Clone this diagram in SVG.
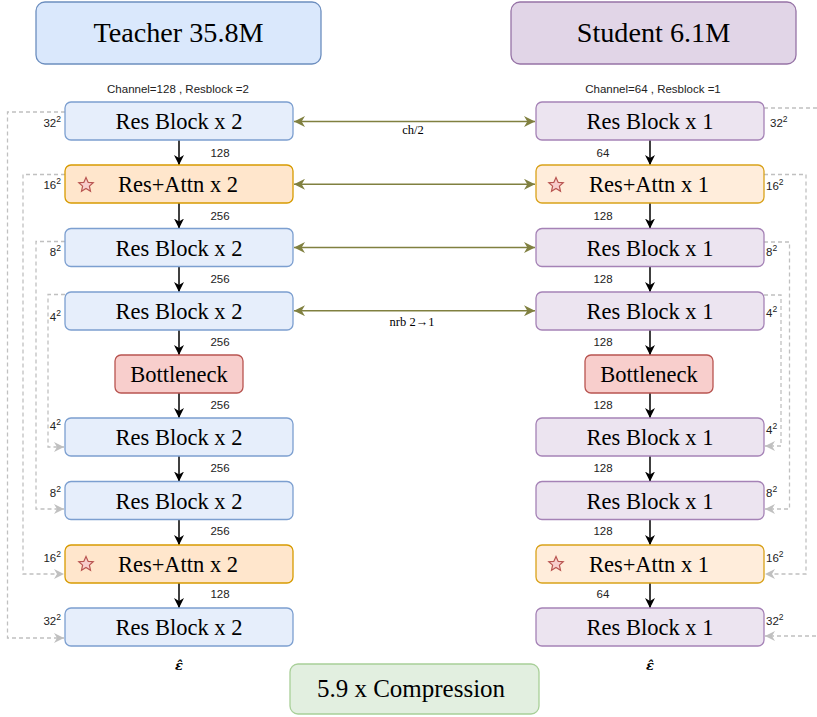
<svg xmlns="http://www.w3.org/2000/svg" width="817" height="717" viewBox="0 0 817 717">
<style>
.t{font-family:"Liberation Serif","Times New Roman",serif;fill:#000}
.s{font-family:"Liberation Sans",Arial,sans-serif;fill:#222;font-size:11.5px}
.sup{font-size:8.5px}
.blk{font-size:22.5px;text-anchor:middle}
.eps{font-family:"DejaVu Serif",serif;font-size:13px;font-weight:bold;font-style:italic;text-anchor:middle;fill:#000}
.tb{fill:#e6eefb;stroke:#7c9fd0;stroke-width:1.3}
.sb{fill:#ece4f0;stroke:#a582b6;stroke-width:1.3}
.ab{fill:#ffe6cc;stroke:#d79b00;stroke-width:1.3}
.ab2{fill:#ffeddb;stroke:#d9a21a;stroke-width:1.3}
.bn{fill:#f8cecc;stroke:#b85450;stroke-width:1.3}
.blk2{stroke:#000;stroke-width:1.5;fill:none}
.ol{stroke:#808040;stroke-width:1.5;fill:none}
.dg{stroke:#c0c0c0;stroke-width:1.3;fill:none;stroke-dasharray:4 3}
.star{fill:#f8cecc;stroke:#b85450;stroke-width:1.2}
</style>
<defs>
<marker id="ab" viewBox="0 0 10 10" refX="10" refY="5" markerWidth="10" markerHeight="10" markerUnits="userSpaceOnUse" orient="auto"><path d="M0,0 L10,5 L0,10 L3,5 z" fill="#000"/></marker>
<marker id="ao" viewBox="0 0 10 10" refX="10" refY="5" markerWidth="11" markerHeight="11" markerUnits="userSpaceOnUse" orient="auto-start-reverse"><path d="M0,0 L10,5 L0,10 L3,5 z" fill="#808040"/></marker>
<marker id="ag" viewBox="0 0 10 10" refX="10" refY="5" markerWidth="10" markerHeight="10" markerUnits="userSpaceOnUse" orient="auto"><path d="M0,0 L10,5 L0,10 L3,5 z" fill="#c0c0c0"/></marker>
<path id="st" d="M0,-7.5 L2.2,-2.6 L7.2,-2.3 L3.4,1.1 L4.5,6.2 L0,3.5 L-4.5,6.2 L-3.4,1.1 L-7.2,-2.3 L-2.2,-2.6 Z"/>
</defs>

<g id="title-teacher"><rect x="36" y="2" width="285" height="62" rx="9" fill="#dae8fc" stroke="#6c8ebf" stroke-width="1.3"/><text class="t" x="178.5" y="42" font-size="28.2" text-anchor="middle">Teacher 35.8M</text></g>
<g id="title-student"><rect x="511" y="2" width="285" height="62" rx="9" fill="#e1d5e7" stroke="#9673a6" stroke-width="1.3"/><text class="t" x="653.5" y="42" font-size="28.2" text-anchor="middle">Student 6.1M</text></g>

<text class="s" x="178" y="93" text-anchor="middle">Channel=128 , Resblock =2</text>
<text class="s" x="653" y="93" text-anchor="middle">Channel=64 , Resblock =1</text>

<g id="connectors">
<line class="blk2" x1="179" y1="140" x2="179" y2="165" marker-end="url(#ab)"/>
<line class="blk2" x1="179" y1="203" x2="179" y2="228.5" marker-end="url(#ab)"/>
<line class="blk2" x1="179" y1="266.5" x2="179" y2="292" marker-end="url(#ab)"/>
<line class="blk2" x1="179" y1="330" x2="179" y2="355" marker-end="url(#ab)"/>
<line class="blk2" x1="179" y1="393" x2="179" y2="418" marker-end="url(#ab)"/>
<line class="blk2" x1="179" y1="456" x2="179" y2="481.5" marker-end="url(#ab)"/>
<line class="blk2" x1="179" y1="519.5" x2="179" y2="545" marker-end="url(#ab)"/>
<line class="blk2" x1="179" y1="583" x2="179" y2="608" marker-end="url(#ab)"/>
<line class="blk2" x1="650" y1="140" x2="650" y2="165" marker-end="url(#ab)"/>
<line class="blk2" x1="650" y1="203" x2="650" y2="228.5" marker-end="url(#ab)"/>
<line class="blk2" x1="650" y1="266.5" x2="650" y2="292" marker-end="url(#ab)"/>
<line class="blk2" x1="650" y1="330" x2="650" y2="355" marker-end="url(#ab)"/>
<line class="blk2" x1="650" y1="393" x2="650" y2="418" marker-end="url(#ab)"/>
<line class="blk2" x1="650" y1="456" x2="650" y2="481.5" marker-end="url(#ab)"/>
<line class="blk2" x1="650" y1="519.5" x2="650" y2="545" marker-end="url(#ab)"/>
<line class="blk2" x1="650" y1="583" x2="650" y2="608" marker-end="url(#ab)"/>
<line class="ol" x1="294" y1="121.5" x2="535" y2="121.5" marker-start="url(#ao)" marker-end="url(#ao)"/>
<line class="ol" x1="294" y1="184.3" x2="535" y2="184.3" marker-start="url(#ao)" marker-end="url(#ao)"/>
<line class="ol" x1="294" y1="247.5" x2="535" y2="247.5" marker-start="url(#ao)" marker-end="url(#ao)"/>
<line class="ol" x1="294" y1="310.7" x2="535" y2="310.7" marker-start="url(#ao)" marker-end="url(#ao)"/>
<path class="dg" d="M65,112 H7.5 V638 H64" marker-end="url(#ag)"/>
<path class="dg" d="M65,174.5 H23 V574 H64" marker-end="url(#ag)"/>
<path class="dg" d="M65,241.5 H36 V509 H64" marker-end="url(#ag)"/>
<path class="dg" d="M65,294.5 H48 V447 H64" marker-end="url(#ag)"/>
<path class="dg" d="M764,108 H820 V636 H765" marker-end="url(#ag)"/>
<path class="dg" d="M764,174.5 H806 V574 H765" marker-end="url(#ag)"/>
<path class="dg" d="M764,242 H789.5 V509 H765" marker-end="url(#ag)"/>
<path class="dg" d="M764,295 H781 V446 H765" marker-end="url(#ag)"/>
</g>

<g id="edge-labels">
<text class="t" x="413" y="134" font-size="12.5" text-anchor="middle">ch/2</text>
<text class="t" x="412" y="326" font-size="12.5" text-anchor="middle">nrb 2→1</text>
<g class="s" text-anchor="middle">
<text x="220" y="157">128</text><text x="220" y="220">256</text><text x="220" y="283">256</text><text x="220" y="346">256</text>
<text x="220" y="409">256</text><text x="220" y="472">256</text><text x="220" y="535">256</text><text x="220" y="598">128</text>
<text x="603" y="157">64</text><text x="603" y="220">128</text><text x="603" y="283">128</text><text x="603" y="346">128</text>
<text x="603" y="409">128</text><text x="603" y="472">128</text><text x="603" y="535">128</text><text x="603" y="598">64</text>
</g>
<g class="s" text-anchor="end">
<text x="61" y="127">32<tspan class="sup" dy="-5">2</tspan></text>
<text x="61" y="189">16<tspan class="sup" dy="-5">2</tspan></text>
<text x="61" y="256">8<tspan class="sup" dy="-5">2</tspan></text>
<text x="61" y="321">4<tspan class="sup" dy="-5">2</tspan></text>
<text x="61" y="430">4<tspan class="sup" dy="-5">2</tspan></text>
<text x="61" y="497">8<tspan class="sup" dy="-5">2</tspan></text>
<text x="61" y="562">16<tspan class="sup" dy="-5">2</tspan></text>
<text x="61" y="625">32<tspan class="sup" dy="-5">2</tspan></text>
</g>
<g class="s">
<text x="770" y="127">32<tspan class="sup" dy="-5">2</tspan></text>
<text x="766" y="190">16<tspan class="sup" dy="-5">2</tspan></text>
<text x="766" y="256">8<tspan class="sup" dy="-5">2</tspan></text>
<text x="766" y="317">4<tspan class="sup" dy="-5">2</tspan></text>
<text x="766" y="434">4<tspan class="sup" dy="-5">2</tspan></text>
<text x="766" y="497">8<tspan class="sup" dy="-5">2</tspan></text>
<text x="766" y="562">16<tspan class="sup" dy="-5">2</tspan></text>
<text x="766" y="625">32<tspan class="sup" dy="-5">2</tspan></text>
</g>
</g>

<g id="t-enc1"><rect class="tb" x="65" y="102" width="228" height="38" rx="6"/><text class="t blk" x="179" y="129">Res Block x 2</text></g>
<g id="t-enc2"><rect class="ab" x="65" y="165" width="228" height="38" rx="6"/><use href="#st" class="star" x="86" y="185"/><text class="t blk" x="178" y="192">Res+Attn x 2</text></g>
<g id="t-enc3"><rect class="tb" x="65" y="228.5" width="228" height="38" rx="6"/><text class="t blk" x="179" y="255.5">Res Block x 2</text></g>
<g id="t-enc4"><rect class="tb" x="65" y="292" width="228" height="38" rx="6"/><text class="t blk" x="179" y="319">Res Block x 2</text></g>
<g id="t-bottleneck"><rect class="bn" x="115" y="355" width="128" height="38" rx="6"/><text class="t blk" x="179" y="382">Bottleneck</text></g>
<g id="t-dec1"><rect class="tb" x="65" y="418" width="228" height="38" rx="6"/><text class="t blk" x="179" y="445">Res Block x 2</text></g>
<g id="t-dec2"><rect class="tb" x="65" y="481.5" width="228" height="38" rx="6"/><text class="t blk" x="179" y="508.5">Res Block x 2</text></g>
<g id="t-dec3"><rect class="ab" x="65" y="545" width="228" height="38" rx="6"/><use href="#st" class="star" x="86" y="564"/><text class="t blk" x="178" y="572">Res+Attn x 2</text></g>
<g id="t-dec4"><rect class="tb" x="65" y="608" width="228" height="38" rx="6"/><text class="t blk" x="179" y="635">Res Block x 2</text></g>

<g id="s-enc1"><rect class="sb" x="536" y="102" width="228" height="38" rx="6"/><text class="t blk" x="650" y="129">Res Block x 1</text></g>
<g id="s-enc2"><rect class="ab2" x="536" y="165" width="228" height="38" rx="6"/><use href="#st" class="star" x="556" y="185"/><text class="t blk" x="649" y="192">Res+Attn x 1</text></g>
<g id="s-enc3"><rect class="sb" x="536" y="228.5" width="228" height="38" rx="6"/><text class="t blk" x="650" y="255.5">Res Block x 1</text></g>
<g id="s-enc4"><rect class="sb" x="536" y="292" width="228" height="38" rx="6"/><text class="t blk" x="650" y="319">Res Block x 1</text></g>
<g id="s-bottleneck"><rect class="bn" x="585" y="355" width="128" height="38" rx="6"/><text class="t blk" x="649" y="382">Bottleneck</text></g>
<g id="s-dec1"><rect class="sb" x="536" y="418" width="228" height="38" rx="6"/><text class="t blk" x="650" y="445">Res Block x 1</text></g>
<g id="s-dec2"><rect class="sb" x="536" y="481.5" width="228" height="38" rx="6"/><text class="t blk" x="650" y="508.5">Res Block x 1</text></g>
<g id="s-dec3"><rect class="ab2" x="536" y="545" width="228" height="38" rx="6"/><use href="#st" class="star" x="556" y="564"/><text class="t blk" x="649" y="572">Res+Attn x 1</text></g>
<g id="s-dec4"><rect class="sb" x="536" y="608" width="228" height="38" rx="6"/><text class="t blk" x="650" y="635">Res Block x 1</text></g>

<g id="eps-t"><text class="eps" x="179" y="670">ε̂</text></g>
<g id="eps-s"><text class="eps" x="650" y="670">ε̂</text></g>

<g id="compression"><rect x="290" y="664" width="249" height="50" rx="8" fill="#e2efe0" stroke="#a8cf98" stroke-width="1.3"/><text class="t" x="411" y="697" font-size="25" text-anchor="middle">5.9 x Compression</text></g>
</svg>
